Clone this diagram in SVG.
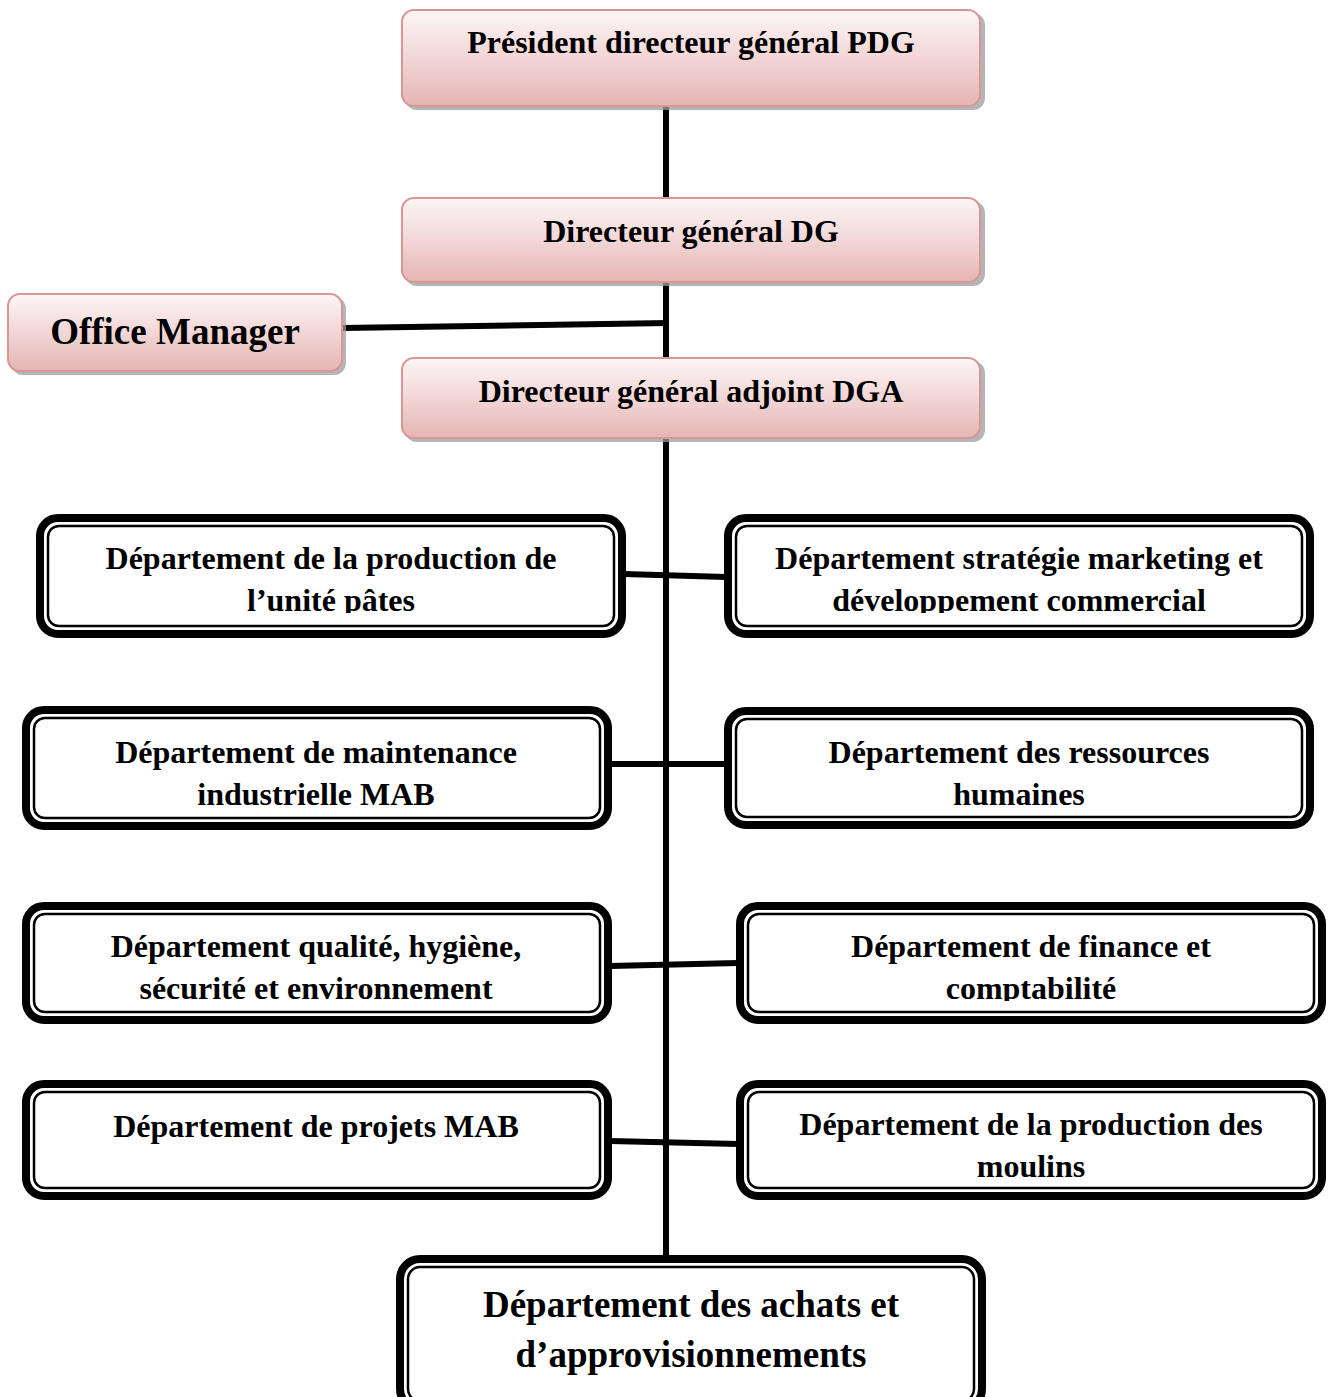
<svg xmlns="http://www.w3.org/2000/svg" width="1336" height="1397" viewBox="0 0 1336 1397">
<style>
text{font-family:"Liberation Serif","Times New Roman",serif;font-weight:bold;fill:#000;text-anchor:middle}
.t32{font-size:32px}
.t37{font-size:37px}
.pink{fill:url(#pg);stroke:#d99694;stroke-width:2}
.shadow{fill:#9c9c9c;opacity:0.75}
.outer{fill:#fff;stroke:#000;stroke-width:8}
.inner{fill:none;stroke:#000;stroke-width:2.5}
.conn{stroke:#000;stroke-width:6;fill:none}
</style>
<defs>
<linearGradient id="pg" x1="0" y1="0" x2="0" y2="1">
<stop offset="0" stop-color="#fdf6f6"/>
<stop offset="0.5" stop-color="#f2d6d6"/>
<stop offset="1" stop-color="#e4b5b4"/>
</linearGradient>
<clipPath id="cL1" clipPathUnits="userSpaceOnUse"><rect x="36" y="514" width="590" height="99"/></clipPath>
<clipPath id="cR1" clipPathUnits="userSpaceOnUse"><rect x="724" y="514" width="590" height="99"/></clipPath>
<clipPath id="cR3" clipPathUnits="userSpaceOnUse"><rect x="736" y="902" width="590" height="99"/></clipPath>
<clipPath id="cR4" clipPathUnits="userSpaceOnUse"><rect x="736" y="1080" width="590" height="98"/></clipPath>
</defs>
<rect width="1336" height="1397" fill="#fff"/>
<g id="connectors">
<line class="conn" x1="666" y1="106" x2="666" y2="1258"/>
<line class="conn" x1="342" y1="328" x2="669" y2="323"/>
<line class="conn" x1="624" y1="574" x2="726" y2="577"/>
<line class="conn" x1="610" y1="764" x2="726" y2="764"/>
<line class="conn" x1="610" y1="966" x2="738" y2="963"/>
<line class="conn" x1="610" y1="1141" x2="738" y2="1144"/>
</g>
<g id="pdg">
<rect class="shadow" x="405" y="13" width="580" height="97" rx="12"/>
<rect class="pink" x="402" y="10" width="578" height="96" rx="12"/>
<text class="t32" x="691" y="53">Président directeur général PDG</text>
</g>
<g id="dg">
<rect class="shadow" x="405" y="201" width="580" height="85" rx="12"/>
<rect class="pink" x="402" y="198" width="578" height="84" rx="12"/>
<text class="t32" x="691" y="242">Directeur général DG</text>
</g>
<g id="office-manager">
<rect class="shadow" x="11" y="297" width="335" height="78" rx="12"/>
<rect class="pink" x="8" y="294" width="334" height="77" rx="12"/>
<text class="t37" x="175" y="344">Office Manager</text>
</g>
<g id="dga">
<rect class="shadow" x="405" y="361" width="580" height="81" rx="12"/>
<rect class="pink" x="402" y="358" width="578" height="80" rx="12"/>
<text class="t32" x="691" y="402">Directeur général adjoint DGA</text>
</g>
<g id="dep-pates">
<rect class="outer" x="40" y="518" width="582" height="116" rx="18"/>
<rect class="inner" x="48" y="526" width="566" height="100" rx="11"/>
<g clip-path="url(#cL1)">
<text class="t32" x="331" y="569">Département de la production de</text>
<text class="t32" x="331" y="611">l’unité pâtes</text>
</g>
</g>
<g id="dep-marketing">
<rect class="outer" x="728" y="518" width="582" height="116" rx="18"/>
<rect class="inner" x="736" y="526" width="566" height="100" rx="11"/>
<g clip-path="url(#cR1)">
<text class="t32" x="1019" y="569">Département stratégie marketing et</text>
<text class="t32" x="1019" y="611">développement commercial</text>
</g>
</g>
<g id="dep-maintenance">
<rect class="outer" x="26" y="710" width="582" height="116" rx="18"/>
<rect class="inner" x="34" y="718" width="566" height="100" rx="11"/>
<text class="t32" x="316" y="763">Département de maintenance</text>
<text class="t32" x="316" y="805">industrielle MAB</text>
</g>
<g id="dep-rh">
<rect class="outer" x="728" y="711" width="582" height="114" rx="18"/>
<rect class="inner" x="736" y="719" width="566" height="98" rx="11"/>
<text class="t32" x="1019" y="763">Département des ressources</text>
<text class="t32" x="1019" y="805">humaines</text>
</g>
<g id="dep-qhse">
<rect class="outer" x="26" y="906" width="582" height="114" rx="18"/>
<rect class="inner" x="34" y="914" width="566" height="98" rx="11"/>
<text class="t32" x="316" y="957">Département qualité, hygiène,</text>
<text class="t32" x="316" y="999">sécurité et environnement</text>
</g>
<g id="dep-finance">
<rect class="outer" x="740" y="906" width="582" height="114" rx="18"/>
<rect class="inner" x="748" y="914" width="566" height="98" rx="11"/>
<g clip-path="url(#cR3)">
<text class="t32" x="1031" y="957">Département de finance et</text>
<text class="t32" x="1031" y="999">comptabilité</text>
</g>
</g>
<g id="dep-projets">
<rect class="outer" x="26" y="1084" width="582" height="112" rx="18"/>
<rect class="inner" x="34" y="1092" width="566" height="96" rx="11"/>
<text class="t32" x="316" y="1137">Département de projets MAB</text>
</g>
<g id="dep-moulins">
<rect class="outer" x="740" y="1084" width="582" height="112" rx="18"/>
<rect class="inner" x="748" y="1092" width="566" height="96" rx="11"/>
<g clip-path="url(#cR4)">
<text class="t32" x="1031" y="1135">Département de la production des</text>
<text class="t32" x="1031" y="1177">moulins</text>
</g>
</g>
<g id="dep-achats">
<rect class="outer" x="400" y="1259" width="582" height="150" rx="20"/>
<rect class="inner" x="408" y="1267" width="566" height="134" rx="12"/>
<text class="t37" x="691" y="1317">Département des achats et</text>
<text class="t37" x="691" y="1367">d’approvisionnements</text>
</g>
</svg>
